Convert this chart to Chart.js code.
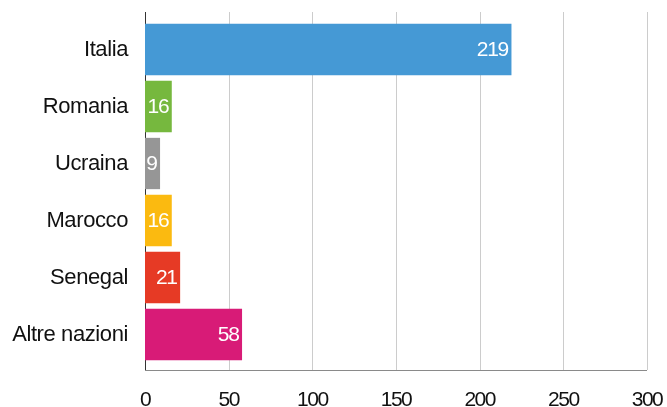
<!DOCTYPE html>
<html>
<head>
<meta charset="utf-8">
<script src="https://cdn.jsdelivr.net/npm/chart.js@4"></script>
<style>
  html, body { margin: 0; padding: 0; background: #fff; }
  #wrap { width: 667px; height: 407px; }
</style>
</head>
<body>
<div id="wrap"><canvas id="chart"></canvas></div>
<script>
// Dati
const paesi = ['Italia', 'Romania', 'Ucraina', 'Marocco', 'Senegal', 'Altre nazioni'];
const valori = [219, 16, 9, 16, 21, 58];
const colori = ['#4599d5', '#76b83e', '#969696', '#fbba10', '#e63a25', '#d81b77'];
const tickX = [0, 50, 100, 150, 200, 250, 300];

const FONT = '"Liberation Sans", Arial, sans-serif';

// Griglia e assi disegnati un po' oltre l'area dei dati
const lineePlugin = {
    id: 'linee',
    beforeDatasetsDraw(chart) {
        const ctx = chart.ctx;
        const area = chart.chartArea;
        const x = chart.scales.x;
        const top = area.top - 9;
        const bottom = area.bottom + 7;
        ctx.save();
        ctx.lineWidth = 1;
        ctx.strokeStyle = '#cccccc';
        tickX.forEach(function(v) {
            if (v === 0) return;
            const px = Math.round(x.getPixelForValue(v)) + 0.5;
            ctx.beginPath();
            ctx.moveTo(px, top);
            ctx.lineTo(px, bottom);
            ctx.stroke();
        });
        ctx.strokeStyle = '#8a8a8a';
        ctx.beginPath();
        ctx.moveTo(x.getPixelForValue(0), bottom + 0.5);
        ctx.lineTo(x.getPixelForValue(300), bottom + 0.5);
        ctx.stroke();
        ctx.strokeStyle = '#333333';
        const x0 = Math.round(x.getPixelForValue(0)) + 0.5;
        ctx.beginPath();
        ctx.moveTo(x0, top);
        ctx.lineTo(x0, bottom);
        ctx.stroke();
        ctx.restore();
    }
};

// Etichette bianche alla fine delle barre
const etichettePlugin = {
    id: 'etichette',
    afterDatasetsDraw(chart) {
        const ctx = chart.ctx;
        const meta = chart.getDatasetMeta(0);
        ctx.save();
        ctx.fillStyle = '#ffffff';
        ctx.font = '21px ' + FONT;
        ctx.letterSpacing = '-1.3px';
        ctx.textAlign = 'right';
        ctx.textBaseline = 'middle';
        meta.data.forEach(function(bar, i) {
            // lo spazio negativo finale sposta il testo a destra
            ctx.fillText(String(valori[i]), bar.x - 3.5, bar.y + 1);
        });
        ctx.restore();
    }
};

// testo degli assi un po' più stretto
function stringi(spazio) {
    return function(scale) {
        if (scale._stretto) return;
        scale._stretto = true;
        const orig = scale.drawLabels;
        scale.drawLabels = function(area) {
            this.ctx.save();
            this.ctx.letterSpacing = spazio;
            orig.call(this, area);
            this.ctx.restore();
        };
    };
}

new Chart(document.getElementById('chart'), {
    type: 'bar',
    data: {
        labels: paesi,
        datasets: [{
            data: valori,
            backgroundColor: colori,
            borderWidth: 0,
            categoryPercentage: 1,
            barPercentage: 0.9
        }]
    },
    options: {
        indexAxis: 'y',
        responsive: true,
        maintainAspectRatio: false,
        animation: false,
        layout: { padding: { top: 21, right: 20, left: 0, bottom: 0 } },
        plugins: {
            legend: { display: false },
            tooltip: { enabled: false }
        },
        scales: {
            x: {
                min: 0,
                max: 300,
                afterBuildTicks(scale) {
                    scale.ticks = tickX.map(v => ({ value: v }));
                },
                grid: { display: false, drawTicks: false },
                border: { display: false },
                ticks: {
                    color: '#111',
                    padding: 25,
                    font: { family: FONT, size: 21 }
                },
                afterFit(scale) {
                    scale.height = 44;
                    scale.paddingLeft = 0;
                    scale.paddingRight = 0;
                },
                afterUpdate: stringi('-1.5px')
            },
            y: {
                grid: { display: false, drawTicks: false },
                border: { display: false },
                ticks: {
                    color: '#111',
                    padding: 17,
                    font: { family: FONT, size: 22 }
                },
                afterFit(scale) {
                    scale.width = 145;
                    scale.paddingTop = 0;
                    scale.paddingBottom = 0;
                },
                afterUpdate: stringi('-0.4px')
            }
        }
    },
    plugins: [lineePlugin, etichettePlugin]
});
</script>
</body>
</html>
